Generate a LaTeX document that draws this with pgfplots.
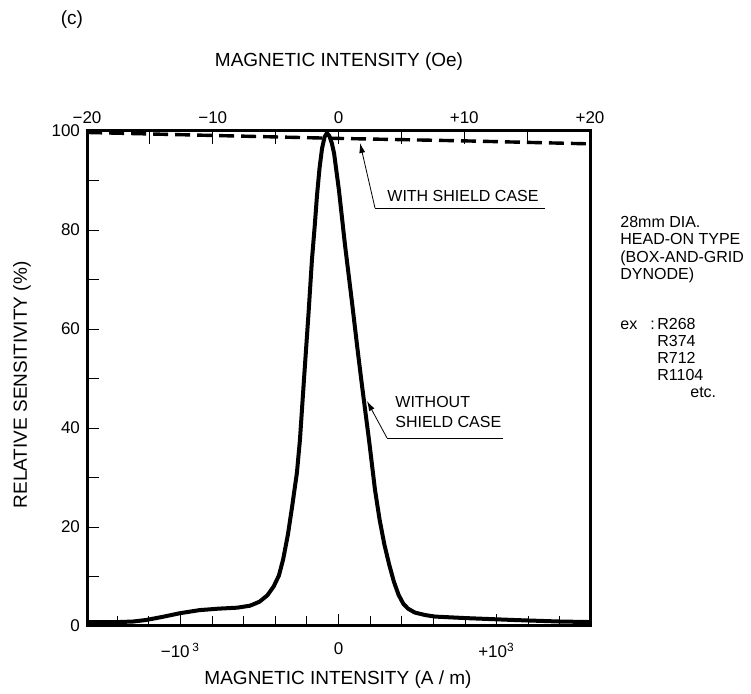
\documentclass[border=0pt]{standalone}
\usepackage{fontspec}
\setmainfont{Liberation Sans}
\usepackage{pgfplots}
\usepackage{pgfplotstable}
\pgfplotsset{compat=1.18}
\usetikzlibrary{arrows.meta}

\pgfplotstableread{
x y
-1591 0.8
-1390 0.8
-1300 0.9
-1220 1.2
-1120 1.8
-1000 2.6
-880 3.2
-760 3.5
-640 3.7
-560 4.1
-500 4.9
-450 6.2
-410 8.0
-377 10.2
-350 13.5
-320 18.5
-294 24
-263 31
-244 37.6
-218 50
-190 63
-168 74
-150 81
-136 87
-120 92.5
-104 96.5
-88 98.8
-73 99.6
-58 99
-42 97.5
-28 95.5
3 88
41 77
85 65.5
120 56
149 48.5
193 37.6
231 27.5
260 21.5
290 16.5
320 12.5
350 9
380 6.3
410 4.5
440 3.5
484 2.7
550 2.2
611 1.9
800 1.6
1117 1.2
1400 0.9
1591 0.8
}\withoutshield

\pgfplotstableread{
x y
-1591 99.7
-800 99.1
0 98.5
800 98.0
1591 97.4
}\withshield

\begin{document}
\begin{tikzpicture}
\begin{axis}[
  name=main, scale only axis, width=251.5pt, height=247.5pt,
  xmin=-1591.5, xmax=1591.5, ymin=0, ymax=100,
  axis line style={line width=1.5pt},
  xtick={-1000,0,1000},
  xticklabels={−10\,\textsuperscript{3},0,+10\textsuperscript{3}},
  minor xtick={-1400,-1200,-800,-600,-400,-200,200,400,600,800,1200,1400},
  ytick={0,10,...,100},
  yticklabels={0,,20,,40,,60,,80,,100},
  xtick pos=left, ytick pos=left, tick align=inside,
  major tick length=6pt, minor tick length=5pt,
  tick style={line width=0.4pt, black},
  ticklabel style={font=\fontsize{8.5}{10}\selectfont},
  xticklabel style={yshift=-5pt},
]
\addplot[black, line width=2pt, line join=round] table[x=x,y=y] {\withoutshield};
\addplot[black, line width=1.7pt, dash pattern=on 7.5pt off 3.5pt] table[x=x,y=y] {\withshield};
\end{axis}
\begin{axis}[
  scale only axis, width=251.5pt, height=247.5pt,
  xmin=-20, xmax=20, ymin=0, ymax=100,
  hide y axis,
  axis line style={line width=1.5pt},
  xtick={-20,-15,...,20},
  xticklabels={−20,,−10,,0,,+10,,+20},
  xtick pos=right, tick align=inside,
  major tick length=6.5pt,
  tick style={line width=0.4pt, black},
  ticklabel style={font=\fontsize{8.5}{10}\selectfont},
]
\end{axis}
\begin{scope}[x=0.5pt,y=-0.5pt,shift={(-87,-626)}]
  \node[font=\fontsize{9.5}{11}\selectfont] at (72,20) {(c)};
  \node[font=\fontsize{9.5}{11}\selectfont] at (339,62) {MAGNETIC INTENSITY (Oe)};
  \node[font=\fontsize{9.5}{11}\selectfont] at (338,680) {MAGNETIC INTENSITY (A / m)};
  \node[font=\fontsize{9.5}{11}\selectfont, rotate=90] at (22,385) {RELATIVE SENSITIVITY (\%)};
  % annotations
  \draw[line width=0.4pt] (545,208) -- (375,208);
  \draw[line width=0.4pt,-{Latex[length=5pt,width=3pt]}] (375,208) -- (360,143);
  \node[anchor=base west, inner sep=0pt, font=\fontsize{8}{9}\selectfont] at (387,202) {WITH SHIELD CASE};
  \draw[line width=0.4pt] (503,438) -- (387,438);
  \draw[line width=0.4pt,-{Latex[length=5pt,width=3pt]}] (387,438) -- (367,401);
  \node[anchor=base west, inner sep=0pt, font=\fontsize{8}{9}\selectfont] at (395,408) {WITHOUT};
  \node[anchor=base west, inner sep=0pt, font=\fontsize{8}{9}\selectfont] at (395,428) {SHIELD CASE};
  % right text
  \begin{scope}[every node/.style={anchor=base west, inner sep=0pt, font=\fontsize{8}{9}\selectfont}]
    \node at (620,228) {28mm DIA.};
    \node at (620,245) {HEAD-ON TYPE};
    \node at (620,263) {(BOX-AND-GRID};
    \node at (620,280) {DYNODE)};
    \node at (620,330) {ex};
    \node at (650,330) {:};
    \node at (657,330) {R268};
    \node at (657,347) {R374};
    \node at (657,364) {R712};
    \node at (657,381) {R1104};
    \node at (690,398) {etc.};
  \end{scope}
  \pgfresetboundingbox
  \path[use as bounding box] (0,0) rectangle (751,694);
\end{scope}
\end{tikzpicture}
\end{document}
